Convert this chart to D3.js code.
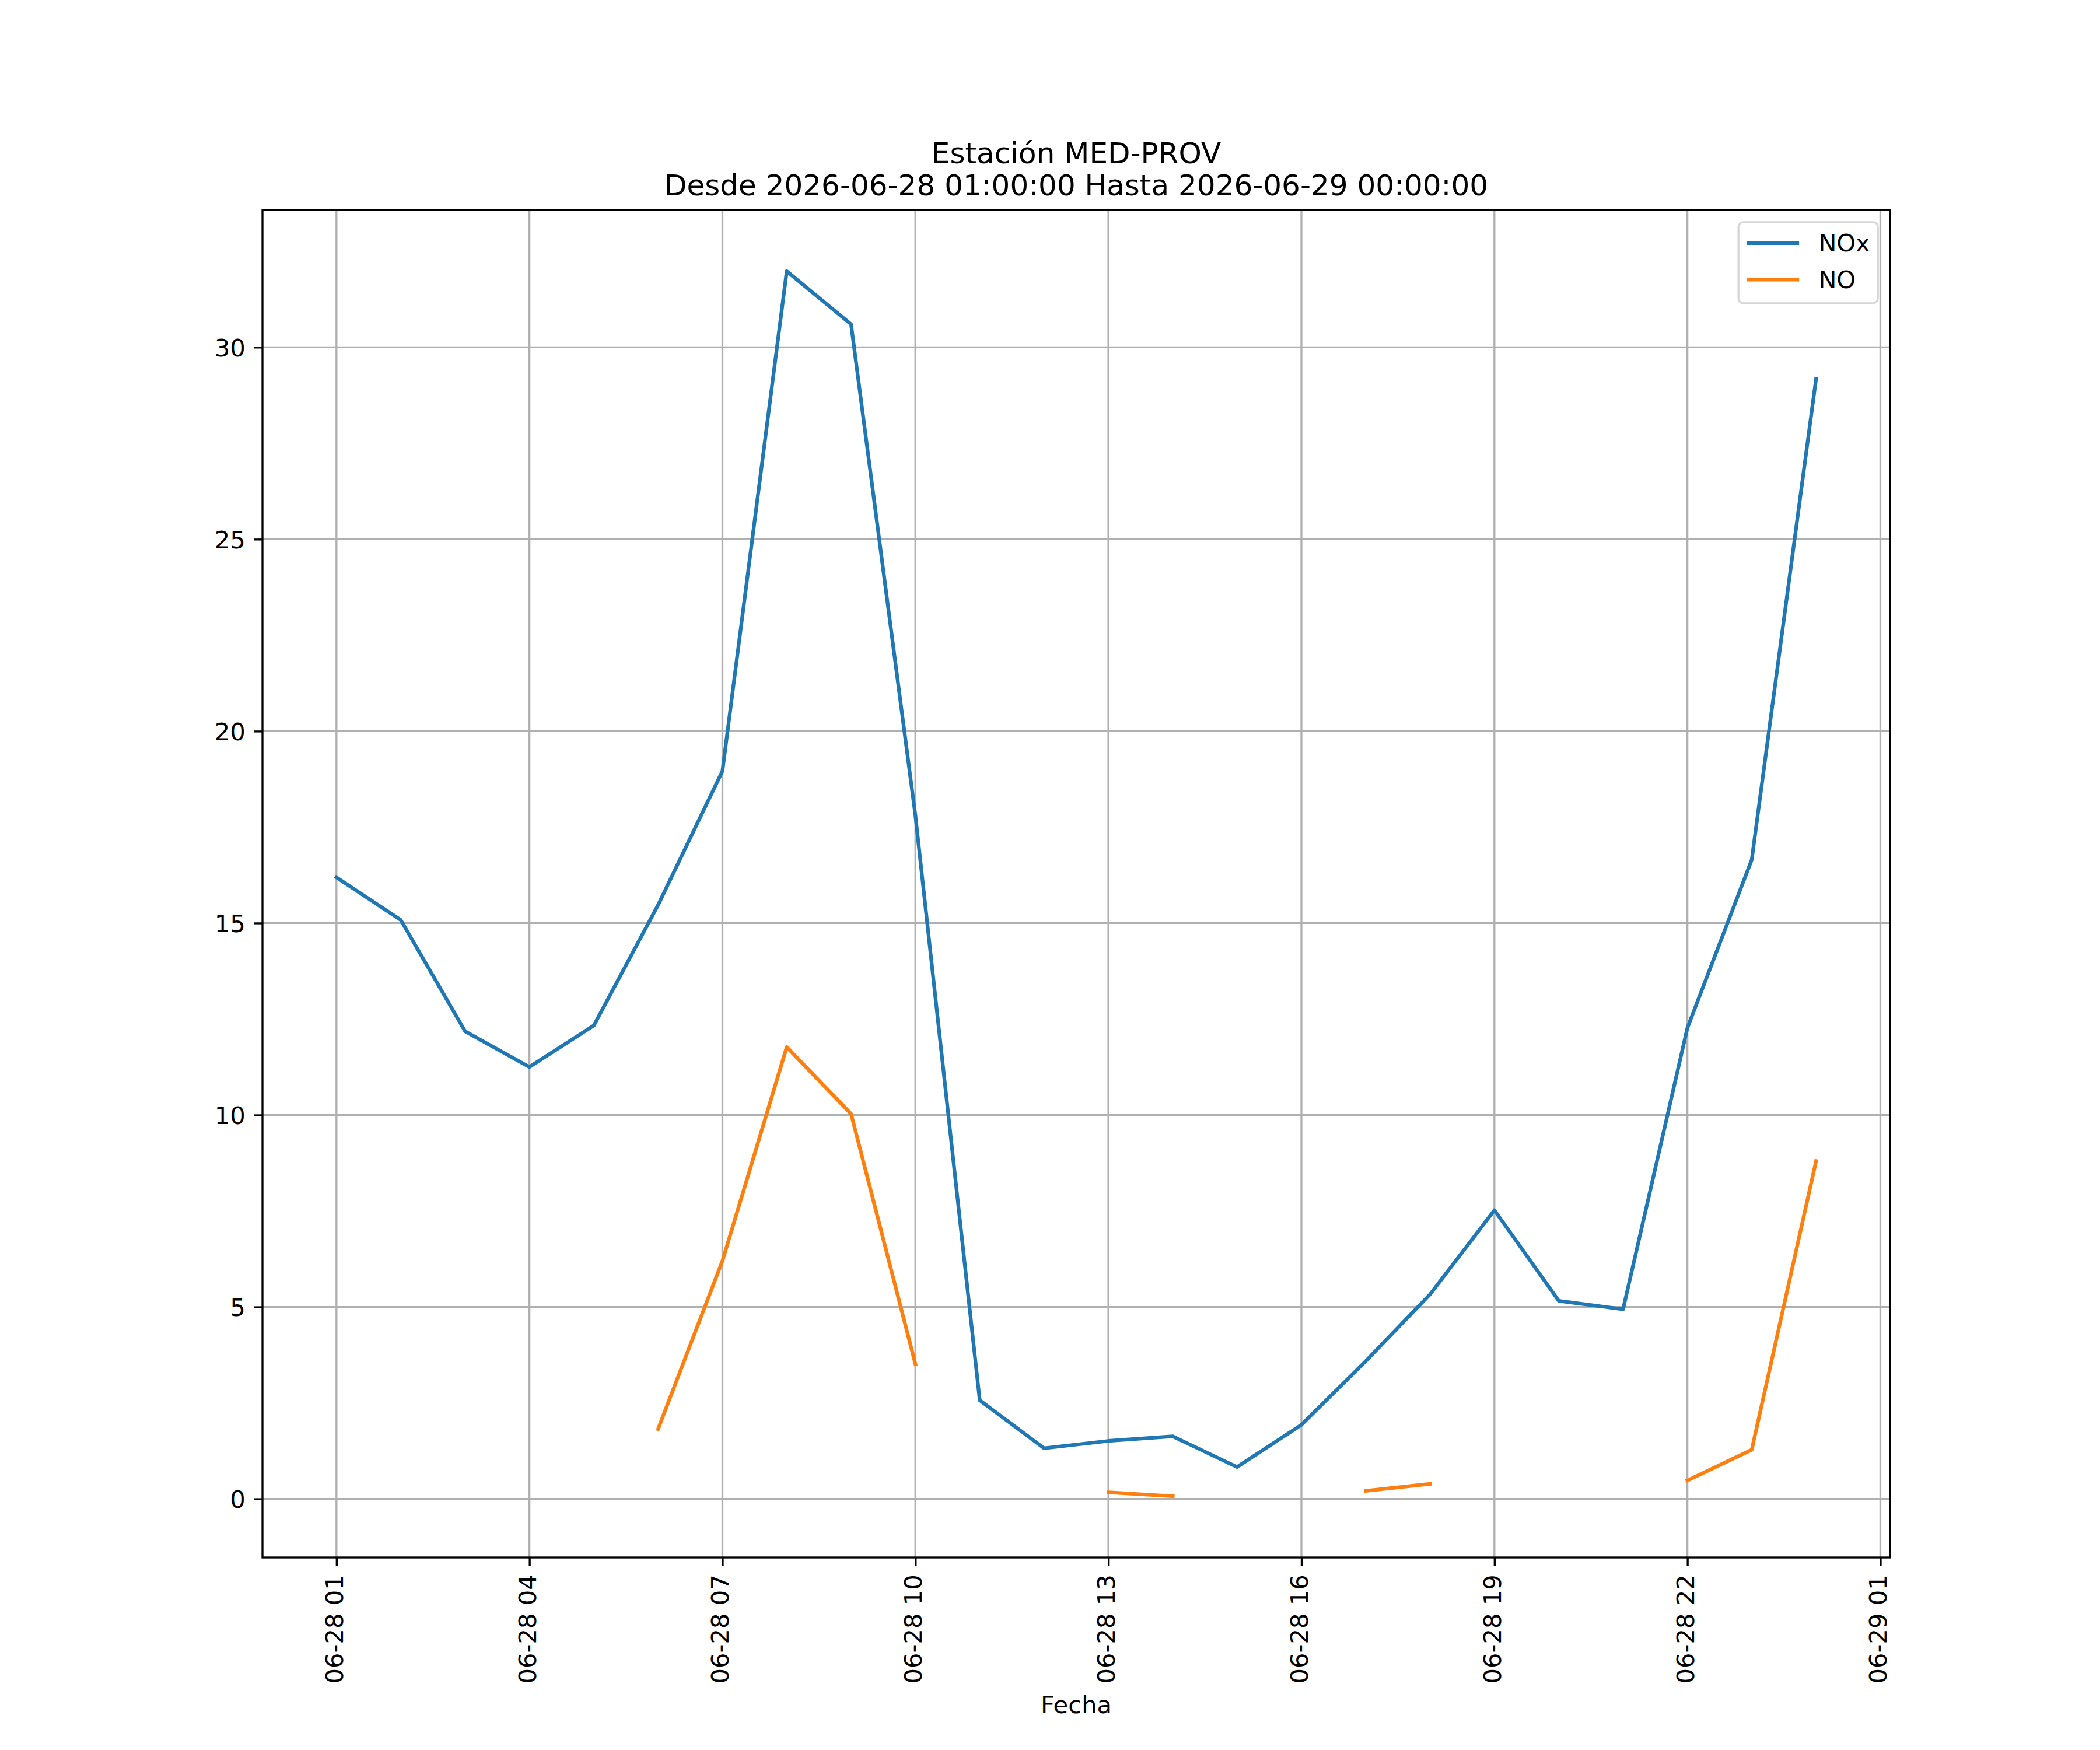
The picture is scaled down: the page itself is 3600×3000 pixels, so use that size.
<!DOCTYPE html>
<html>
<head>
<meta charset="utf-8">
<script src="https://cdn.jsdelivr.net/npm/d3@7"></script>
<style>
  body { margin: 0; background: #fff; }
  text { font-family: "DejaVu Sans", sans-serif; fill: #000; }
</style>
</head>
<body>
<svg id="chart" width="3600" height="3000"></svg>
<script>
var times = [
  "2026-06-28 01:00", "2026-06-28 02:00", "2026-06-28 03:00", "2026-06-28 04:00",
  "2026-06-28 05:00", "2026-06-28 06:00", "2026-06-28 07:00", "2026-06-28 08:00",
  "2026-06-28 09:00", "2026-06-28 10:00", "2026-06-28 11:00", "2026-06-28 12:00",
  "2026-06-28 13:00", "2026-06-28 14:00", "2026-06-28 15:00", "2026-06-28 16:00",
  "2026-06-28 17:00", "2026-06-28 18:00", "2026-06-28 19:00", "2026-06-28 20:00",
  "2026-06-28 21:00", "2026-06-28 22:00", "2026-06-28 23:00", "2026-06-29 00:00"];

var noxValues = [16.19, 15.08, 12.18, 11.25, 12.33, 15.47, 18.96, 31.98,
                 30.60, 17.80, 2.57, 1.32, 1.51, 1.63, 0.83, 1.93,
                 3.59, 5.33, 7.52, 5.16, 4.94, 12.27, 16.65, 29.18];

var noValues = [null, null, null, null, null, 1.82, 6.20, 11.77,
                10.03, 3.51, null, null, 0.17, 0.07, null, null,
                0.21, 0.39, null, null, null, 0.48, 1.28, 8.80];

var seriesNames = ["NOx", "NO"];
var seriesColors = ["#1f77b4", "#ff7f0e"];

var titleLines = ["Estación MED-PROV", "Desde 2026-06-28 01:00:00 Hasta 2026-06-29 00:00:00"];
var xLabel = "Fecha";

// figure 12x10 in at 300 dpi, matplotlib default subplot box
var W = 3600, H = 3000;
var axL = 450, axR = 3240, axT = 360, axB = 2670;
var pt = 300 / 72;
var fontSize = 10 * pt, titleSize = 12 * pt;
var tickLen = 3.5 * pt, tickPad = 3.5 * pt, thin = 0.8 * pt;

var parse = d3.utcParse("%Y-%m-%d %H:%M");
var dates = times.map(parse);

var series = [noxValues, noValues].map(function(vals, i){
  return {
    name: seriesNames[i],
    color: seriesColors[i],
    points: vals.map(function(v, j){ return {t: dates[j], v: v}; })
  };
});

// 5% margins like matplotlib autoscale
var tExt = d3.extent(dates);
var tPad = (tExt[1] - tExt[0]) * 0.05;
var allVals = noxValues.concat(noValues).filter(function(v){ return v != null; });
var vExt = d3.extent(allVals);
var vPad = (vExt[1] - vExt[0]) * 0.05;

var x = d3.scaleUtc()
  .domain([new Date(+tExt[0] - tPad), new Date(+tExt[1] + tPad)])
  .range([axL, axR]);

var y = d3.scaleLinear()
  .domain([vExt[0] - vPad, vExt[1] + vPad])
  .range([axB, axT]);

var svg = d3.select("#chart");
svg.append("rect").attr("width", W).attr("height", H).attr("fill", "#fff");

var xTicks = d3.utcHour.range(tExt[0], x.domain()[1], 3);
var yTicks = [0, 5, 10, 15, 20, 25, 30];
var fmt = d3.utcFormat("%m-%d %H");

// grid
var grid = svg.append("g").attr("class", "grid");
grid.selectAll(".gx")
  .data(xTicks)
 .enter().append("line")
  .attr("x1", d => x(d)).attr("x2", d => x(d))
  .attr("y1", axT).attr("y2", axB)
  .attr("stroke", "#b0b0b0").attr("stroke-width", thin);
grid.selectAll(".gy")
  .data(yTicks)
 .enter().append("line")
  .attr("x1", axL).attr("x2", axR)
  .attr("y1", d => y(d)).attr("y2", d => y(d))
  .attr("stroke", "#b0b0b0").attr("stroke-width", thin);

// lines
var line = d3.line()
  .defined(d => d.v != null)
  .x(d => x(d.t))
  .y(d => y(d.v));

svg.append("defs").append("clipPath").attr("id", "clip")
  .append("rect").attr("x", axL).attr("y", axT)
  .attr("width", axR - axL).attr("height", axB - axT);

svg.append("g").attr("clip-path", "url(#clip)")
  .selectAll(".series")
  .data(series)
 .enter().append("path")
  .attr("class", "series")
  .attr("d", d => line(d.points))
  .attr("fill", "none")
  .attr("stroke", d => d.color)
  .attr("stroke-width", 1.5 * pt)
  .attr("stroke-linejoin", "round")
  .attr("stroke-linecap", "square");

// axes
var xAxis = d3.axisBottom(x)
  .tickValues(xTicks)
  .tickFormat(fmt)
  .tickSize(tickLen)
  .tickPadding(tickPad);

var gx = svg.append("g")
  .attr("transform", "translate(0," + axB + ")")
  .call(xAxis);
gx.select(".domain").remove();
gx.selectAll(".tick line").attr("stroke", "#000").attr("stroke-width", thin);
gx.selectAll(".tick text")
  .attr("font-size", fontSize)
  .attr("font-family", "DejaVu Sans")
  .attr("text-anchor", "end")
  .attr("dy", null)
  .attr("y", 0)
  .attr("x", 0)
  .attr("transform", "translate(-4," + (tickLen + tickPad) + ") rotate(-90)")
  .attr("dominant-baseline", "central");

var yAxis = d3.axisLeft(y)
  .tickValues(yTicks)
  .tickSize(tickLen)
  .tickPadding(tickPad);

var gy = svg.append("g")
  .attr("transform", "translate(" + axL + ",0)")
  .call(yAxis);
gy.select(".domain").remove();
gy.selectAll(".tick line").attr("stroke", "#000").attr("stroke-width", thin);
gy.selectAll(".tick text")
  .attr("font-size", fontSize)
  .attr("font-family", "DejaVu Sans")
  .attr("dy", "0.36em");

// spines
svg.append("rect")
  .attr("x", axL).attr("y", axT)
  .attr("width", axR - axL).attr("height", axB - axT)
  .attr("fill", "none")
  .attr("stroke", "#000")
  .attr("stroke-width", thin)
  .attr("stroke-linecap", "square");

// title
svg.selectAll(".title")
  .data(titleLines)
 .enter().append("text")
  .attr("class", "title")
  .attr("x", (axL + axR) / 2)
  .attr("y", (d, i) => axT - 6 * pt - (titleLines.length - 1 - i) * 55)
  .attr("text-anchor", "middle")
  .attr("font-size", titleSize)
  .text(d => d);

// x label
svg.append("text")
  .attr("x", (axL + axR) / 2)
  .attr("y", 2937)
  .attr("text-anchor", "middle")
  .attr("font-size", fontSize)
  .text(xLabel);

// legend
var lg = svg.append("g").attr("class", "legend");
var lgRight = axR - 0.5 * fontSize, lgTop = axT + 0.5 * fontSize;
var lgW = 239, lgH = 139;
lg.append("rect")
  .attr("x", lgRight - lgW).attr("y", lgTop)
  .attr("width", lgW).attr("height", lgH)
  .attr("rx", 0.2 * fontSize).attr("ry", 0.2 * fontSize)
  .attr("fill", "#fff").attr("fill-opacity", 0.8)
  .attr("stroke", "#d6d6d6").attr("stroke-width", thin);

var items = lg.selectAll(".item")
  .data(series)
 .enter().append("g")
  .attr("class", "item")
  .attr("transform", (d, i) => "translate(" + (lgRight - lgW) + "," + (lgTop + 36 + i * 62.5) + ")");
items.append("line")
  .attr("x1", 14).attr("x2", 104)
  .attr("y1", 0).attr("y2", 0)
  .attr("stroke", d => d.color)
  .attr("stroke-width", 1.5 * pt)
  .attr("stroke-linecap", "butt");
items.append("text")
  .attr("x", 137)
  .attr("y", 14.5)
  .attr("font-size", fontSize)
  .text(d => d.name);
</script>
</body>
</html>
